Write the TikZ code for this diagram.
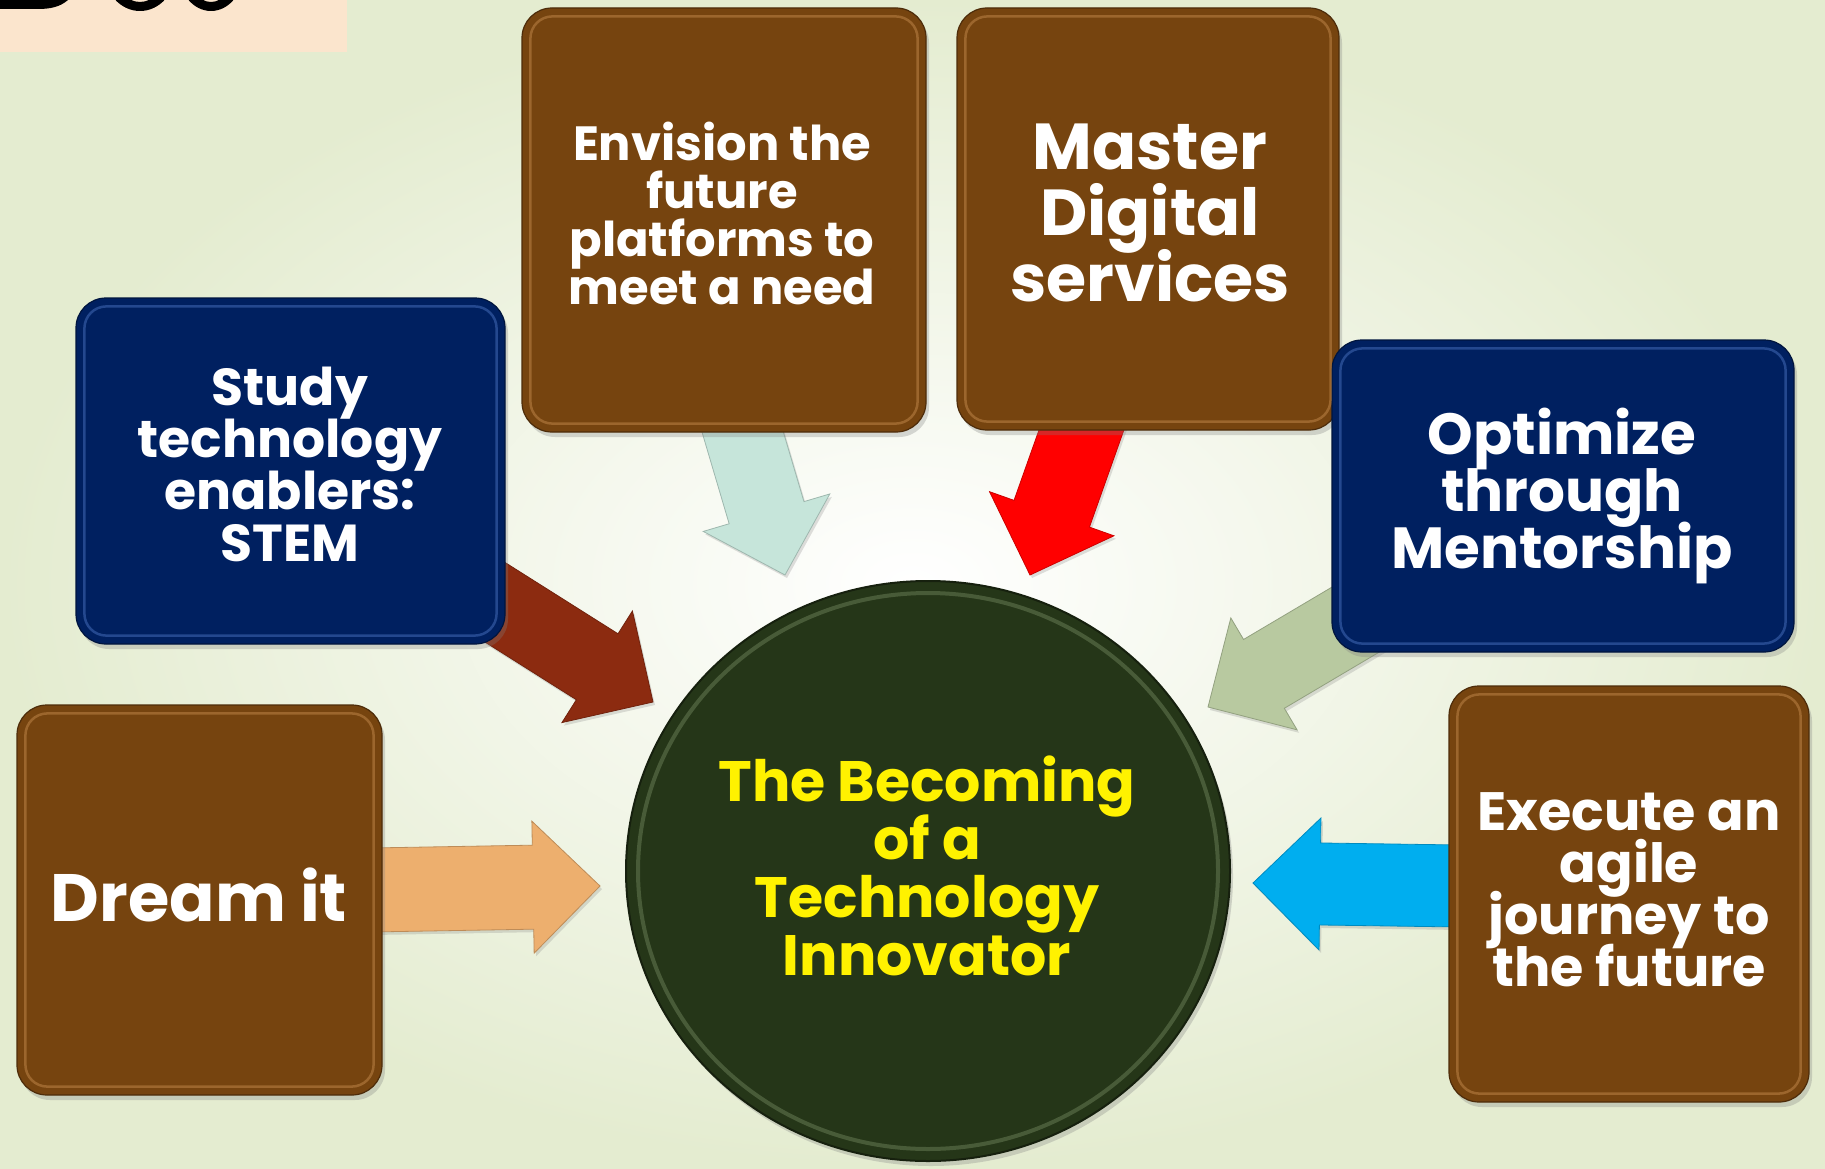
\documentclass[tikz,border=0pt]{standalone}
\usepackage{fontspec}
\setmainfont{Poppins}
\usepackage{tikz}
\usetikzlibrary{calc, positioning, shapes.geometric, shadows}
\definecolor{colorBrown}{HTML}{76440F}
\definecolor{colorBrownEdge}{HTML}{D59A5C}
\definecolor{colorNavy}{HTML}{002060}
\definecolor{colorNavyEdge}{HTML}{5A86D6}
\definecolor{colorHub}{HTML}{253618}
\definecolor{colorHubRim}{HTML}{7E9468}
\definecolor{colorPeach}{HTML}{FBE5CD}
\definecolor{colorBgEdge}{HTML}{E4ECD0}
\definecolor{colorDreamArrow}{HTML}{EDAF6E}
\definecolor{colorExecArrow}{HTML}{00AEEF}
\definecolor{colorStudyArrow}{HTML}{8C2B10}
\definecolor{colorEnvisionArrow}{HTML}{C6E5DA}
\definecolor{colorMasterArrow}{HTML}{FF0000}
\definecolor{colorOptimArrow}{HTML}{B8C9A0}
\lineskiplimit=-200pt
\pgfdeclarelayer{background}
\pgfdeclarelayer{arrows}
\pgfsetlayers{background,arrows,main}
\tikzset{
  panel/.style={draw=#1!65!black, line width=1.2pt, fill=#1, rounded corners=30pt, inner sep=0pt,
    drop shadow={shadow xshift=3pt, shadow yshift=-5pt, opacity=.3}},
  bevel/.style={draw=#1, line width=2.5pt, rounded corners=22pt, opacity=.4},
  boxtext/.style 2 args={text=white, align=center, inner sep=0pt, font=\fontsize{#1}{#2}\selectfont\bfseries},
  blockarrow/.style={fill=#1, draw=#1!80!black, line width=.8pt,
    drop shadow={shadow xshift=2pt, shadow yshift=-3pt, opacity=.25}},
}
% block arrow from (#1Tail) to (#1Tip): colour, shaft half width, head half width, head length
\newcommand{\blockarrow}[5]{%
  \coordinate (#1Base) at ($(#1Tip)!#5!(#1Tail)$);
  \filldraw[blockarrow=#2]
    ($(#1Tail)!#3!90:(#1Tip)$) -- ($(#1Base)!#3!-90:(#1Tail)$) --
    ($(#1Base)!#4!-90:(#1Tail)$) -- (#1Tip) --
    ($(#1Base)!#4!90:(#1Tail)$) -- ($(#1Base)!#3!90:(#1Tail)$) --
    ($(#1Tail)!#3!-90:(#1Tip)$) -- cycle;
}
\begin{document}
\begin{tikzpicture}[x=1pt, y=-1pt]
\useasboundingbox (0,0) rectangle (1825,1169);
\begin{pgfonlayer}{background}
\shade[inner color=white, outer color=colorBgEdge] (0,0) rectangle (1825,1169);
\fill[colorPeach] (0,0) rectangle (347,52);
% cut-off title letters
\begin{scope}
\clip (0,0) rectangle (347,52);
\fill[black] (-5,0) -- (68,0) .. controls (60,7) and (50,9) .. (38,9) -- (-5,9) -- cycle;
\fill[black, even odd rule] (140,-30) ellipse [x radius=36, y radius=41] (140,-30) ellipse [x radius=26, y radius=32];
\fill[black, even odd rule] (211,-30) ellipse [x radius=33, y radius=41] (211,-30) ellipse [x radius=23, y radius=32];
\end{scope}
\end{pgfonlayer}

% boxes
\node[panel=colorBrown, minimum width=365pt, minimum height=390pt] (dream) at (199.5,900) {};
\node[panel=colorNavy, minimum width=429pt, minimum height=346pt] (study) at (290.5,471) {};
\node[panel=colorBrown, minimum width=404pt, minimum height=424pt] (envision) at (724,220) {};
\node[panel=colorBrown, minimum width=382pt, minimum height=422pt] (master) at (1148,219) {};
\node[panel=colorNavy, minimum width=462pt, minimum height=312pt] (optimize) at (1563,496) {};
\node[panel=colorBrown, minimum width=360pt, minimum height=416pt] (execute) at (1629,894) {};
\foreach \n/\c in {dream/colorBrownEdge, study/colorNavyEdge, envision/colorBrownEdge,
                   master/colorBrownEdge, optimize/colorNavyEdge, execute/colorBrownEdge}
  \draw[bevel=\c] ($(\n.north west)+(9,9)$) rectangle ($(\n.south east)+(-9,-9)$);

% hub
\node[ellipse, minimum width=604pt, minimum height=580pt, fill=colorHub, draw=colorHub!60!black,
  line width=2pt, drop shadow={shadow xshift=3pt, shadow yshift=-5pt, opacity=.3}] (hub) at (928,871) {};
\draw[colorHubRim, line width=4pt, opacity=.4] (hub.center) ellipse [x radius=290, y radius=278];

% texts
\node[boxtext={67}{70}] (dreamText) at (199,894.5) {Dream it};
\node[boxtext={52}{52}] (studyText) at (290,464.5) {Study\\technology\\enablers:\\STEM};
\node[boxtext={48}{48}] (envisionText) at (722,213.5) {Envision the\\future\\platforms to\\meet a need};
\node[boxtext={65}{66}] (masterText) at (1150,213) {Master\\Digital\\services};
\node[boxtext={58}{57}] (optimizeText) at (1562,496) {Optimize\\through\\Mentorship};
\node[boxtext={54}{52}] (executeText) at (1629,890) {Execute an\\agile\\journey to\\the future};
\node[boxtext={57}{58}, text=yellow] (hubText) at (927,866) {The Becoming\\of a\\Technology\\Innovator};

% arrows
\coordinate (dreamTail) at (370,890);     \coordinate (dreamTip) at (600,886);
\coordinate (executeTail) at (1460,886);  \coordinate (executeTip) at (1253,883);
\coordinate (studyTail) at (436,565);     \coordinate (studyTip) at (653,702);
\coordinate (envisionTail) at (724,369);  \coordinate (envisionTip) at (785,575);
\coordinate (masterTail) at (1102,372);   \coordinate (masterTip) at (1030,575);
\coordinate (optimizeTail) at (1436,572); \coordinate (optimizeTip) at (1208,707);
\begin{pgfonlayer}{arrows}
\blockarrow{dream}{colorDreamArrow}{42pt}{66pt}{67pt}
\blockarrow{execute}{colorExecArrow}{41pt}{66pt}{67pt}
\blockarrow{study}{colorStudyArrow}{39pt}{66pt}{66pt}
\blockarrow{envision}{colorEnvisionArrow}{39pt}{66pt}{65pt}
\blockarrow{master}{colorMasterArrow}{40pt}{66pt}{65pt}
\blockarrow{optimize}{colorOptimArrow}{40pt}{65pt}{65pt}
\end{pgfonlayer}
\end{tikzpicture}
\end{document}
